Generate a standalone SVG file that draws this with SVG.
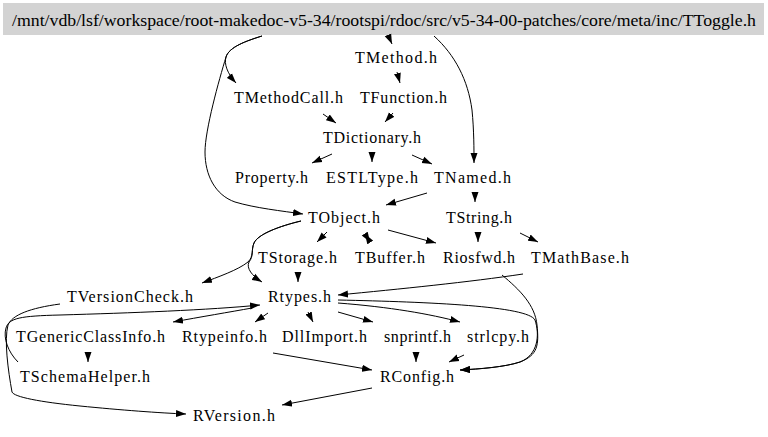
<svg xmlns="http://www.w3.org/2000/svg" width="768" height="437" viewBox="0 0 768 437">
<style>
text{font-family:"Liberation Serif","Times New Roman",serif;font-size:16px;fill:#000}
.e{fill:none;stroke:#000;stroke-width:1;marker-end:url(#ah)}
</style>
<defs>
<marker id="ah" markerUnits="userSpaceOnUse" markerWidth="10" markerHeight="8" viewBox="0 0 10 8" refX="10" refY="4" orient="auto-start-reverse">
<path d="M0,0.5 L10,4 L0,7.5 z" fill="#000"/>
</marker>
</defs>
<rect width="768" height="437" fill="#fff"/>
<g id="n_TToggle"><rect x="3" y="3" width="761" height="32" fill="#d3d3d3"/><text x="12" y="26" textLength="744" lengthAdjust="spacingAndGlyphs">/mnt/vdb/lsf/workspace/root-makedoc-v5-34/rootspi/rdoc/src/v5-34-00-patches/core/meta/inc/TToggle.h</text></g>
<g id="n_TMethod"><text x="355" y="63" textLength="82" lengthAdjust="spacing">TMethod.h</text></g>
<g id="n_TMethodCall"><text x="234" y="103" textLength="109" lengthAdjust="spacing">TMethodCall.h</text></g>
<g id="n_TFunction"><text x="360" y="103" textLength="87" lengthAdjust="spacing">TFunction.h</text></g>
<g id="n_TDictionary"><text x="323" y="143" textLength="98" lengthAdjust="spacing">TDictionary.h</text></g>
<g id="n_Property"><text x="235" y="183" textLength="73" lengthAdjust="spacing">Property.h</text></g>
<g id="n_ESTLType"><text x="326" y="183" textLength="92" lengthAdjust="spacing">ESTLType.h</text></g>
<g id="n_TNamed"><text x="434" y="183" textLength="77" lengthAdjust="spacing">TNamed.h</text></g>
<g id="n_TObject"><text x="308" y="223" textLength="72" lengthAdjust="spacing">TObject.h</text></g>
<g id="n_TString"><text x="446" y="223" textLength="66" lengthAdjust="spacing">TString.h</text></g>
<g id="n_TStorage"><text x="258" y="263" textLength="79" lengthAdjust="spacing">TStorage.h</text></g>
<g id="n_TBuffer"><text x="355" y="263" textLength="70" lengthAdjust="spacing">TBuffer.h</text></g>
<g id="n_Riosfwd"><text x="443" y="263" textLength="72" lengthAdjust="spacing">Riosfwd.h</text></g>
<g id="n_TMathBase"><text x="531" y="263" textLength="98" lengthAdjust="spacing">TMathBase.h</text></g>
<g id="n_TVersionCheck"><text x="67" y="302" textLength="126" lengthAdjust="spacing">TVersionCheck.h</text></g>
<g id="n_Rtypes"><text x="268" y="302" textLength="63" lengthAdjust="spacing">Rtypes.h</text></g>
<g id="n_TGenericClassInfo"><text x="16" y="342" textLength="149" lengthAdjust="spacing">TGenericClassInfo.h</text></g>
<g id="n_Rtypeinfo"><text x="182" y="342" textLength="85" lengthAdjust="spacing">Rtypeinfo.h</text></g>
<g id="n_DllImport"><text x="282" y="342" textLength="85" lengthAdjust="spacing">DllImport.h</text></g>
<g id="n_snprintf"><text x="384" y="342" textLength="67" lengthAdjust="spacing">snprintf.h</text></g>
<g id="n_strlcpy"><text x="467" y="342" textLength="62" lengthAdjust="spacing">strlcpy.h</text></g>
<g id="n_TSchemaHelper"><text x="20" y="382" textLength="130" lengthAdjust="spacing">TSchemaHelper.h</text></g>
<g id="n_RConfig"><text x="380" y="382" textLength="74" lengthAdjust="spacing">RConfig.h</text></g>
<g id="n_RVersion"><text x="193" y="421" textLength="82" lengthAdjust="spacing">RVersion.h</text></g>
<g id="edges">
<path class="e" d="M262,36 C246,41 229,47 226,57 C224,64 227,73 236,83"/>
<path class="e" d="M262,36 C246,41 229,47 226,57 C219,80 205,130 205,152 C205,175 215,195 235,202 C255,208 282,211 303,214"/>
<path class="e" d="M388,35 L392,44"/>
<path class="e" d="M434,36 C455,55 468,80 472,110 C474,130 474,150 474,163"/>
<path class="e" d="M397,72 L400,83"/>
<path class="e" d="M323,114 L336,123"/>
<path class="e" d="M393,113 L385,122"/>
<path class="e" d="M332,154 L312,163"/>
<path class="e" d="M372,152 L372,162"/>
<path class="e" d="M412,155 L432,164"/>
<path class="e" d="M427,193 L386,205"/>
<path class="e" d="M475,192 L475,202"/>
<path class="e" d="M327,232 L317,242"/>
<path class="e" d="M365,234 L370,242" style="marker-start:url(#ah)"/>
<path class="e" d="M388,230 L436,243"/>
<path class="e" d="M301,221 C280,226 258,234 254,243 C251,250 254,256 248,262 C238,270 218,277 202,283"/>
<path class="e" d="M301,221 C280,226 258,234 254,243 C251,250 254,256 249,262 C246,268 252,276 262,282"/>
<path class="e" d="M298,272 L298,282"/>
<path class="e" d="M478,232 L478,242"/>
<path class="e" d="M520,233 L538,242"/>
<path class="e" d="M523,274 C470,282 400,289 338,295"/>
<path class="e" d="M502,275 C520,290 535,305 537,325 C539,345 538,355 520,362 C505,367 480,369 460,370"/>
<path class="e" d="M338,300 C430,302 528,306 535,320 C540,335 538,355 520,362 C505,367 480,369 460,370"/>
<path class="e" d="M338,303 C390,307 430,314 460,322"/>
<path class="e" d="M338,312 L373,322"/>
<path class="e" d="M308,312 L313,322"/>
<path class="e" d="M268,313 L255,322"/>
<path class="e" d="M252,308 C230,312 200,317 173,322"/>
<path class="e" d="M18,362 C8,352 3,338 6,328 C9,318 20,316 60,315 C130,313 210,310 260,305"/>
<path class="e" d="M60,304 C30,308 12,315 8,325 C4,340 8,370 12,392 C14,397 40,402 80,406 C120,410 160,413 186,414"/>
<path class="e" d="M88,352 L88,362"/>
<path class="e" d="M273,353 L372,370"/>
<path class="e" d="M416,352 L416,362"/>
<path class="e" d="M464,355 L449,362"/>
<path class="e" d="M372,388 L282,405"/>
</g>
</svg>
